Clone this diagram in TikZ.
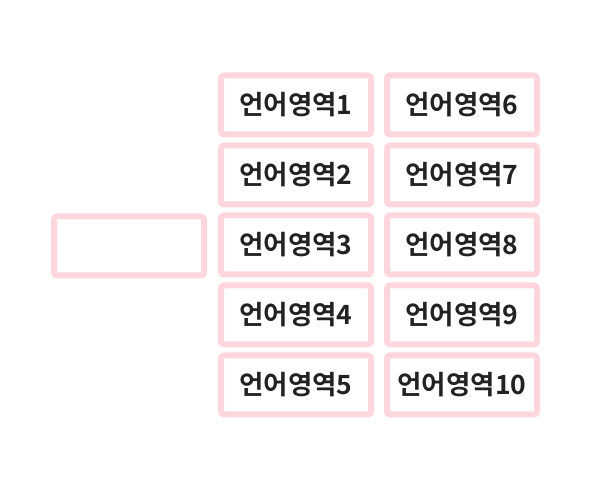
\documentclass[tikz,border=0pt]{standalone}
\usepackage{fontspec}
\newfontfamily\korfont{Noto Sans CJK KR}[BoldFont={* Bold}]
\usepackage{tikz}
\definecolor{pinkline}{RGB}{255, 214, 222}
\definecolor{dark}{RGB}{34, 34, 34}
\newcommand*{\boxw}{150}
\newcommand*{\boxh}{59}

\begin{document}
\begin{tikzpicture}[
   x=1pt, y=1pt,
   areabox/.style={rectangle, rounded corners=3, draw=pinkline, fill=white, line width=6,
                   text=dark, inner sep=0, minimum width=\boxw, minimum height=\boxh,
                   font=\korfont\bfseries\fontsize{26.5}{26.5}\selectfont}
  ]

  % Row Spacing
  \pgfmathsetmacro{\d}{70}

  \useasboundingbox[fill=white] (0, 0) rectangle (590, 492);

  \node (S) at (129, 246) [areabox] {};

  \foreach \i in {1,...,5} {
    \pgfmathtruncatemacro{\j}{\i + 5}
    \node (L\i) at (296, 387 - \i * \d + \d) [areabox] {언어영역\i};
    \node (R\i) at (462, 387 - \i * \d + \d) [areabox] {언어영역\j};
  }

\end{tikzpicture}
\end{document}
